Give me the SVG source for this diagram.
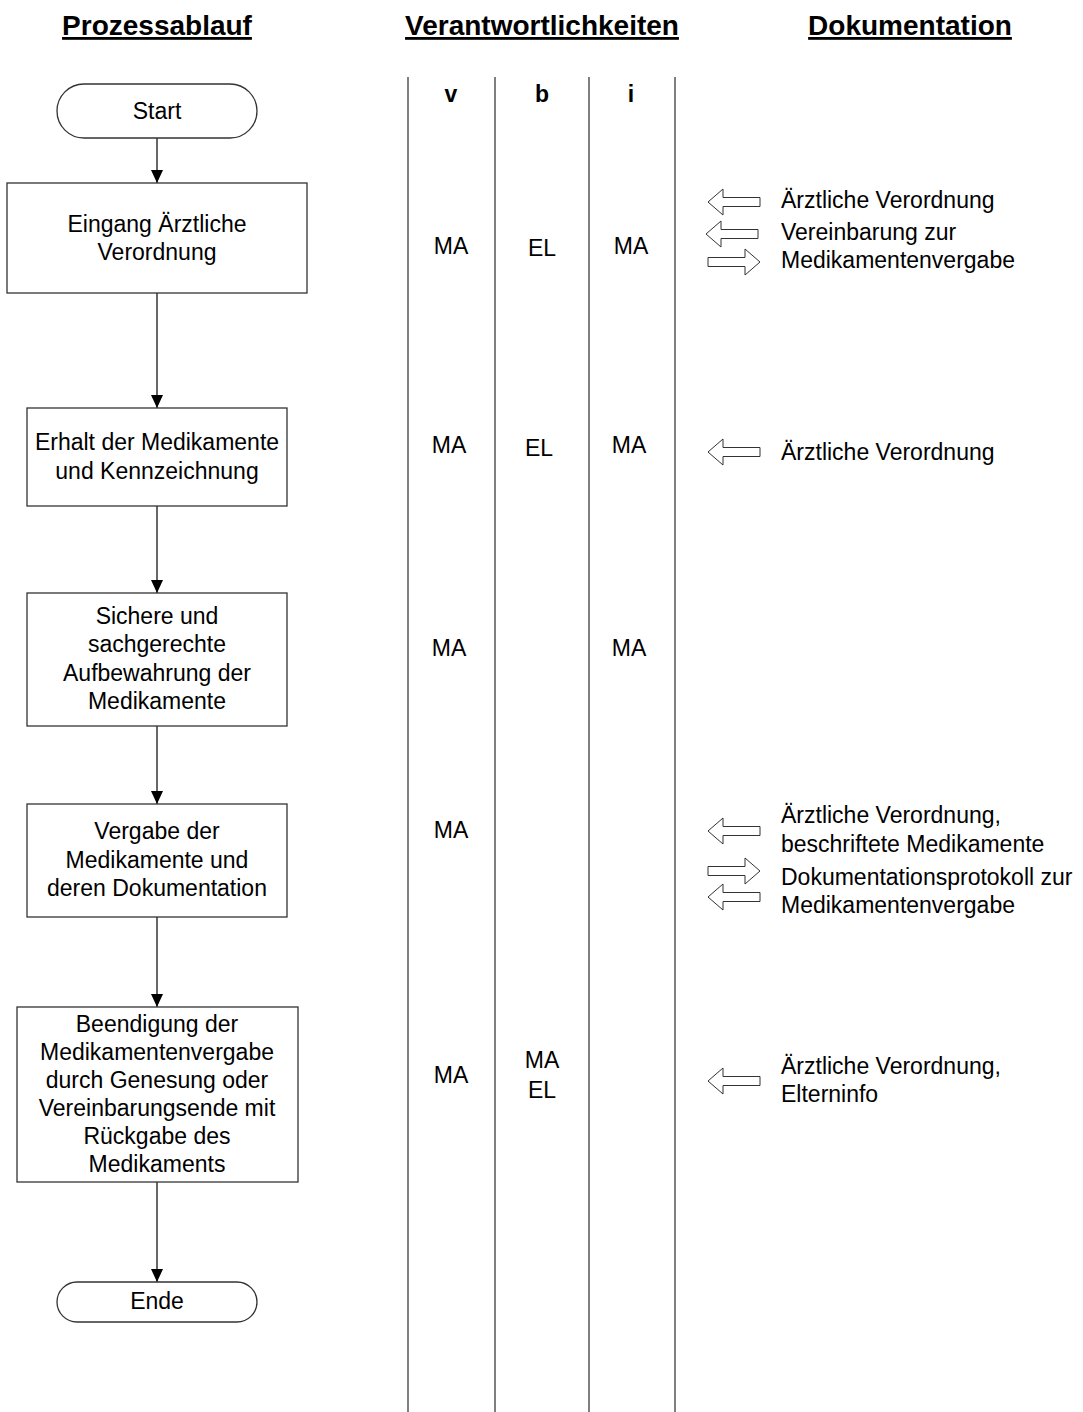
<svg xmlns="http://www.w3.org/2000/svg" width="1083" height="1412" viewBox="0 0 1083 1412">
<style>
text{font-family:"Liberation Sans",Arial,sans-serif;font-size:23px;fill:#000}
.t{font-weight:bold;font-size:28px;text-decoration:underline;text-anchor:middle}
.h{font-weight:bold;text-anchor:middle}
.c{text-anchor:middle}
.box{fill:#fff;stroke:#333;stroke-width:1.3}
.lane{stroke:#555;stroke-width:1.5}
.conn{stroke:#000;stroke-width:1.2;fill:none;marker-end:url(#ah)}
.ba{fill:#fff;stroke:#333;stroke-width:1}
</style>
<defs>
<marker id="ah" viewBox="0 0 13 12" refX="13" refY="6" markerWidth="13" markerHeight="12" markerUnits="userSpaceOnUse" orient="auto"><path d="M0,0 L13,6 L0,12 Z" fill="#000"/></marker>
<path id="la" d="M0,0 L15,-13 L15,-4.5 L52,-4.5 L52,4.5 L15,4.5 L15,13 Z"/>
<path id="ra" d="M0,0 L-15,-13 L-15,-4.5 L-52,-4.5 L-52,4.5 L-15,4.5 L-15,13 Z"/>
</defs>
<rect width="1083" height="1412" fill="#fff"/>
<g id="titles">
<text class="t" x="157" y="35">Prozessablauf</text>
<text class="t" x="542" y="35">Verantwortlichkeiten</text>
<text class="t" x="910" y="35">Dokumentation</text>
</g>
<g id="lanes">
<line class="lane" x1="408" y1="77" x2="408" y2="1412"/>
<line class="lane" x1="495" y1="77" x2="495" y2="1412"/>
<line class="lane" x1="589" y1="77" x2="589" y2="1412"/>
<line class="lane" x1="675" y1="77" x2="675" y2="1412"/>
<text class="h" x="451" y="102">v</text>
<text class="h" x="542" y="102">b</text>
<text class="h" x="631" y="102">i</text>
</g>
<g id="connectors">
<line class="conn" x1="157" y1="138" x2="157" y2="183"/>
<line class="conn" x1="157" y1="293" x2="157" y2="408"/>
<line class="conn" x1="157" y1="506" x2="157" y2="593"/>
<line class="conn" x1="157" y1="726" x2="157" y2="804"/>
<line class="conn" x1="157" y1="917" x2="157" y2="1007"/>
<line class="conn" x1="157" y1="1182" x2="157" y2="1282"/>
</g>
<g id="start">
<rect class="box" x="57" y="84" width="200" height="54" rx="27"/>
<text class="c" x="157" y="119">Start</text>
</g>
<g id="n1">
<rect class="box" x="7" y="183" width="300" height="110"/>
<text class="c" x="157" y="232">Eingang Ärztliche</text>
<text class="c" x="157" y="260">Verordnung</text>
</g>
<g id="n2">
<rect class="box" x="27" y="408" width="260" height="98"/>
<text class="c" x="157" y="450">Erhalt der Medikamente</text>
<text class="c" x="157" y="479">und Kennzeichnung</text>
</g>
<g id="n3">
<rect class="box" x="27" y="593" width="260" height="133"/>
<text class="c" x="157" y="624">Sichere und</text>
<text class="c" x="157" y="652">sachgerechte</text>
<text class="c" x="157" y="681">Aufbewahrung der</text>
<text class="c" x="157" y="709">Medikamente</text>
</g>
<g id="n4">
<rect class="box" x="27" y="804" width="260" height="113"/>
<text class="c" x="157" y="839">Vergabe der</text>
<text class="c" x="157" y="868">Medikamente und</text>
<text class="c" x="157" y="896">deren Dokumentation</text>
</g>
<g id="n5">
<rect class="box" x="17" y="1007" width="281" height="175"/>
<text class="c" x="157" y="1032">Beendigung der</text>
<text class="c" x="157" y="1060">Medikamentenvergabe</text>
<text class="c" x="157" y="1088">durch Genesung oder</text>
<text class="c" x="157" y="1116">Vereinbarungsende mit</text>
<text class="c" x="157" y="1144">Rückgabe des</text>
<text class="c" x="157" y="1172">Medikaments</text>
</g>
<g id="ende">
<rect class="box" x="57" y="1282" width="200" height="40" rx="20"/>
<text class="c" x="157" y="1309">Ende</text>
</g>
<g id="resp">
<text class="c" x="451" y="254">MA</text>
<text class="c" x="542" y="256">EL</text>
<text class="c" x="631" y="254">MA</text>
<text class="c" x="449" y="453">MA</text>
<text class="c" x="539" y="456">EL</text>
<text class="c" x="629" y="453">MA</text>
<text class="c" x="449" y="656">MA</text>
<text class="c" x="629" y="656">MA</text>
<text class="c" x="451" y="838">MA</text>
<text class="c" x="451" y="1083">MA</text>
<text class="c" x="542" y="1068">MA</text>
<text class="c" x="542" y="1098">EL</text>
</g>
<g id="doc1">
<use href="#la" class="ba" x="708" y="202"/>
<use href="#la" class="ba" x="706" y="234"/>
<use href="#ra" class="ba" x="760" y="262"/>
<text x="781" y="208">Ärztliche Verordnung</text>
<text x="781" y="240">Vereinbarung zur</text>
<text x="781" y="268">Medikamentenvergabe</text>
</g>
<g id="doc2">
<use href="#la" class="ba" x="708" y="452"/>
<text x="781" y="460">Ärztliche Verordnung</text>
</g>
<g id="doc4">
<use href="#la" class="ba" x="708" y="831"/>
<use href="#ra" class="ba" x="760" y="871"/>
<use href="#la" class="ba" x="708" y="897"/>
<text x="781" y="823">Ärztliche Verordnung,</text>
<text x="781" y="852">beschriftete Medikamente</text>
<text x="781" y="885">Dokumentationsprotokoll zur</text>
<text x="781" y="913">Medikamentenvergabe</text>
</g>
<g id="doc5">
<use href="#la" class="ba" x="708" y="1081"/>
<text x="781" y="1074">Ärztliche Verordnung,</text>
<text x="781" y="1102">Elterninfo</text>
</g>
</svg>
